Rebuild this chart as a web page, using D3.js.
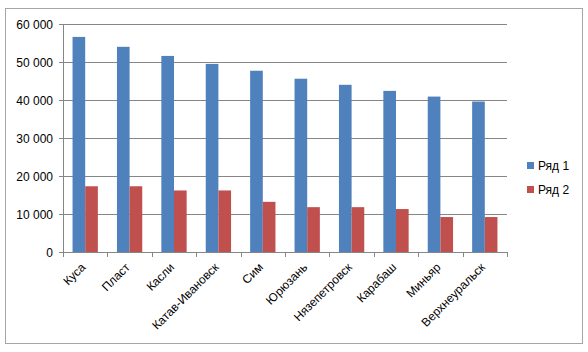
<!DOCTYPE html>
<html>
<head>
<meta charset="utf-8">
<script src="https://cdn.jsdelivr.net/npm/d3@7"></script>
<style>
  body { margin: 0; background: #fff; }
  svg text { font-family: "Liberation Sans", Arial, sans-serif; font-size: 12px; fill: #000; }
</style>
</head>
<body>
<div id="chart"></div>
<script>
// данные с картинки
const categories = ["Куса", "Пласт", "Касли", "Катав-Ивановск", "Сим", "Юрюзань", "Нязепетровск", "Карабаш", "Миньяр", "Верхнеуральск"];
const seriesNames = ["Ряд 1", "Ряд 2"];
const series1 = [56600, 54000, 51600, 49500, 47700, 45600, 44000, 42400, 40900, 39600];
const series2 = [17300, 17300, 16200, 16200, 13200, 11800, 11800, 11300, 9200, 9200];
const yTicks = [0, 10000, 20000, 30000, 40000, 50000, 60000];
const colors = ["#4F81BD", "#C0504D"];

const W = 588, H = 352;
const margin = { top: 24, right: 81, bottom: 100, left: 63 };
const width = W - margin.left - margin.right;   // 444
const height = H - margin.top - margin.bottom;  // 228

const svg = d3.select("#chart").append("svg")
    .attr("width", W)
    .attr("height", H);

// рамка
svg.append("rect")
    .attr("x", 5.5).attr("y", 8.5)
    .attr("width", 577).attr("height", 335)
    .attr("fill", "#fff")
    .attr("stroke", "#a6a6a6");

const g = svg.append("g").attr("transform", `translate(${margin.left},${margin.top})`);

const x = d3.scaleBand().domain(categories).range([0, width]).paddingInner(0.43).paddingOuter(0.215);
const xSub = d3.scaleBand().domain(seriesNames).range([0, x.bandwidth()]);
const y = d3.scaleLinear().domain([0, 60000]).range([height, 0]);

// сетка
g.append("g").selectAll("line")
    .data(yTicks)
    .join("line")
    .attr("x1", 0).attr("x2", width)
    .attr("y1", d => Math.round(y(d)) + 0.5).attr("y2", d => Math.round(y(d)) + 0.5)
    .attr("stroke", "#868686");

// ось Y
const fmt = d => d3.format(",")(d).replace(/,/g, "\u00a0");
const yAxis = g.append("g")
    .call(d3.axisLeft(y).tickValues(yTicks).tickSize(4).tickFormat(fmt));
yAxis.select(".domain").attr("stroke", "#868686");
yAxis.selectAll(".tick line").attr("stroke", "#868686");
yAxis.selectAll(".tick text").attr("x", -10).attr("dy", "0.35em");

// столбцы
const data = categories.map((c, i) => ({ cat: c, vals: [series1[i], series2[i]] }));
const groups = g.append("g").selectAll("g")
    .data(data)
    .join("g")
    .attr("transform", d => `translate(${x(d.cat)},0)`);

groups.selectAll("rect")
    .data(d => d.vals.map((v, k) => ({ name: seriesNames[k], v: v, k: k })))
    .join("rect")
    .attr("x", d => xSub(d.name))
    .attr("y", d => y(d.v))
    .attr("width", xSub.bandwidth())
    .attr("height", d => height - y(d.v))
    .attr("fill", d => colors[d.k]);

// ось X
const step = x.step();
const xAxisG = g.append("g").attr("transform", `translate(0,${height})`);
xAxisG.append("line")
    .attr("x1", 0).attr("x2", width)
    .attr("y1", 0.5).attr("y2", 0.5)
    .attr("stroke", "#868686");
xAxisG.selectAll(".tk")
    .data(d3.range(categories.length + 1))
    .join("line")
    .attr("class", "tk")
    .attr("x1", i => Math.round(i * step) + 0.5).attr("x2", i => Math.round(i * step) + 0.5)
    .attr("y1", 0).attr("y2", 5)
    .attr("stroke", "#868686");

xAxisG.selectAll("text")
    .data(categories)
    .join("text")
    .attr("text-anchor", "end")
    .attr("transform", d => `translate(${x(d) + x.bandwidth() / 2 + 1},${16}) rotate(-45)`)
    .text(d => d);

// легенда
const legend = svg.append("g").attr("transform", "translate(527,162)");
seriesNames.forEach((s, k) => {
    legend.append("rect")
        .attr("x", 0).attr("y", k * 24)
        .attr("width", 7).attr("height", 7)
        .attr("fill", colors[k]);
    legend.append("text")
        .attr("x", 11).attr("y", k * 24 + 4)
        .attr("dy", "0.35em")
        .text(s);
});
</script>
</body>
</html>
